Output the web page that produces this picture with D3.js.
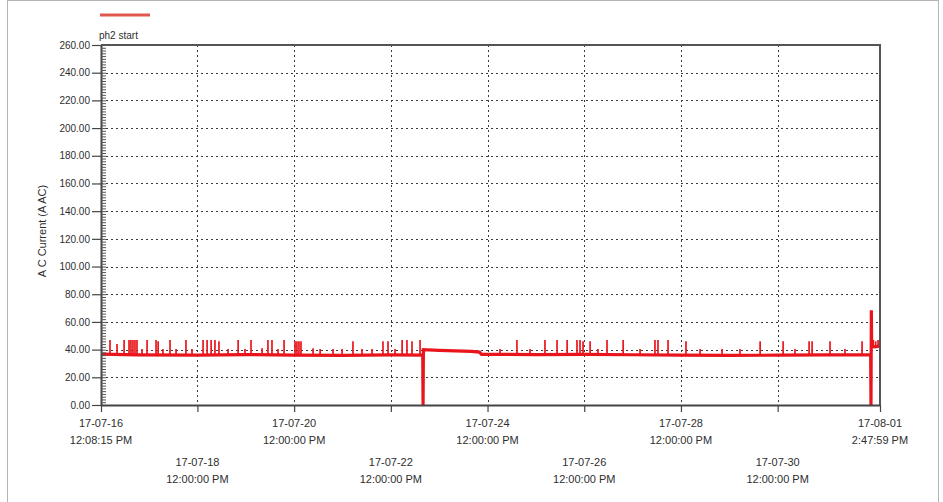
<!DOCTYPE html>
<html>
<head>
<meta charset="utf-8">
<script src="https://cdn.jsdelivr.net/npm/d3@7"></script>
<style>
  body { margin: 0; background: #fff; }
  svg text { font-family: "Liberation Sans", Arial, sans-serif; fill: #2e2e2e; }
</style>
</head>
<body>
<svg id="chart" width="943" height="502"></svg>
<script>
// ---- data -------------------------------------------------------------
const seriesName = "ph2 start";
const yTitle = "A C Current (A AC)";
const timeStart = "2017-07-16 12:08:15";
const timeEnd = "2017-08-01 14:47:59";

const tickTimes = [
  "2017-07-16 12:08:15", "2017-07-18 12:00:00", "2017-07-20 12:00:00",
  "2017-07-22 12:00:00", "2017-07-24 12:00:00", "2017-07-26 12:00:00",
  "2017-07-28 12:00:00", "2017-07-30 12:00:00", "2017-08-01 14:47:59"
];
const yTicks = [0, 20, 40, 60, 80, 100, 120, 140, 160, 180, 200, 220, 240, 260];

// steady current readings (A AC)
const baseTimes = [
  "2017-07-16 12:08", "2017-07-17 06:00", "2017-07-18 12:00", "2017-07-19 12:00",
  "2017-07-20 12:00", "2017-07-21 12:00", "2017-07-22 12:00", "2017-07-23 03:50",
  "2017-07-23 04:00", "2017-07-23 04:10", "2017-07-23 12:00", "2017-07-23 20:00",
  "2017-07-24 04:00", "2017-07-24 08:00", "2017-07-24 09:00", "2017-07-25 12:00",
  "2017-07-26 12:00", "2017-07-27 12:00", "2017-07-28 12:00", "2017-07-29 12:00",
  "2017-07-30 12:00", "2017-07-31 12:00", "2017-08-01 10:10", "2017-08-01 10:20",
  "2017-08-01 10:30", "2017-08-01 10:40", "2017-08-01 12:00", "2017-08-01 14:47"
];
const baseValues = [
  36.8, 36.2, 36.0, 36.4,
  36.0, 35.8, 36.2, 36.0,
  0.0, 39.9, 39.5, 39.1,
  38.7, 38.2, 36.6, 36.4,
  36.6, 36.3, 36.0, 35.8,
  36.0, 36.2, 36.4, 0.0,
  68.5, 42.5, 42.0, 42.5
];

// short start-up peaks (A AC)
const spikeTimes = [
  "2017-07-16 16:36", "2017-07-16 20:06", "2017-07-16 23:36", "2017-07-17 02:03",
  "2017-07-17 03:00", "2017-07-17 04:00", "2017-07-17 05:00", "2017-07-17 06:00",
  "2017-07-17 08:30", "2017-07-17 11:00", "2017-07-17 15:27", "2017-07-17 16:30",
  "2017-07-17 18:54", "2017-07-17 22:24", "2017-07-18 01:24", "2017-07-18 06:18",
  "2017-07-18 09:18", "2017-07-18 14:48", "2017-07-18 16:48", "2017-07-18 18:48",
  "2017-07-18 20:42", "2017-07-18 22:42", "2017-07-19 03:12", "2017-07-19 08:12",
  "2017-07-19 11:36", "2017-07-19 14:36", "2017-07-19 20:06", "2017-07-19 23:00",
  "2017-07-20 01:00", "2017-07-20 04:00", "2017-07-20 07:00", "2017-07-20 12:27",
  "2017-07-20 13:24", "2017-07-20 14:24", "2017-07-20 15:24", "2017-07-20 21:24",
  "2017-07-21 00:54", "2017-07-21 07:18", "2017-07-21 11:48", "2017-07-21 17:12",
  "2017-07-21 21:42", "2017-07-22 02:42", "2017-07-22 08:06", "2017-07-22 10:36",
  "2017-07-22 14:06", "2017-07-22 17:36", "2017-07-22 20:00", "2017-07-22 22:30",
  "2017-07-23 02:30", "2017-07-24 18:12", "2017-07-25 02:36", "2017-07-25 09:06",
  "2017-07-25 16:30", "2017-07-25 22:30", "2017-07-26 03:30", "2017-07-26 08:24",
  "2017-07-26 09:54", "2017-07-26 11:24", "2017-07-26 14:54", "2017-07-26 18:48",
  "2017-07-26 23:18", "2017-07-27 07:18", "2017-07-27 15:42", "2017-07-27 23:06",
  "2017-07-28 00:36", "2017-07-28 05:36", "2017-07-28 14:30", "2017-07-28 21:30",
  "2017-07-29 08:24", "2017-07-29 17:18", "2017-07-30 03:18", "2017-07-30 14:42",
  "2017-07-30 20:36", "2017-07-31 03:36", "2017-07-31 05:06", "2017-07-31 14:00",
  "2017-07-31 21:24", "2017-08-01 05:54", "2017-08-01 11:30", "2017-08-01 12:40",
  "2017-08-01 13:50"
];
const spikeValues = [
  47, 44, 47, 47,
  47, 47, 47, 47,
  40.5, 47, 47, 46,
  40.5, 47, 40.5, 47,
  40.5, 47, 47, 47,
  47, 46, 40.5, 47,
  40.5, 47, 41, 47,
  47, 40.5, 47, 46,
  46, 46, 46, 41,
  40.5, 40.5, 40.5, 46,
  40.5, 40.5, 46, 46,
  40.5, 47, 47, 46,
  47, 40.5, 47, 40.5,
  47, 47, 47, 47,
  47, 46, 46, 40.5,
  47, 47, 40.5, 47,
  47, 47, 46, 40.5,
  40.5, 40.5, 46, 46,
  40.5, 46, 46, 46,
  40.5, 46, 47, 46,
  47
];

// ---- layout ------------------------------------------------------------
const svg = d3.select("#chart");
const plot = { left: 101, right: 880, top: 45, bottom: 405 };
const parseFull = d3.timeParse("%Y-%m-%d %H:%M:%S");
const parseMin = d3.timeParse("%Y-%m-%d %H:%M");

const x = d3.scaleTime()
  .domain([parseFull(timeStart), parseFull(timeEnd)])
  .range([plot.left, plot.right]);
const y = d3.scaleLinear().domain([0, 260]).range([plot.bottom, plot.top]);

// outer frame
svg.append("rect")
  .attr("x", 7.5).attr("y", 0.5).attr("width", 931).attr("height", 520)
  .attr("fill", "none").attr("stroke", "#b4b4b4").attr("stroke-width", 1);

// legend
svg.append("line")
  .attr("x1", 100).attr("x2", 150).attr("y1", 15).attr("y2", 15)
  .attr("stroke", "#e0574d").attr("stroke-width", 3);
svg.append("text")
  .attr("x", 99).attr("y", 39)
  .attr("font-size", 10)
  .text(seriesName);

// grid
const ticksParsed = tickTimes.map(parseFull);
const grid = svg.append("g").attr("stroke", "#3a3a3a").attr("stroke-width", 1)
  .attr("stroke-dasharray", "2,3");
grid.selectAll("line.h")
  .data(yTicks.filter(v => v > 0 && v < 260))
  .join("line").attr("class", "h")
  .attr("x1", plot.left).attr("x2", plot.right)
  .attr("y1", d => Math.round(y(d)) + 0.5).attr("y2", d => Math.round(y(d)) + 0.5);
grid.selectAll("line.v")
  .data(ticksParsed.slice(1, -1))
  .join("line").attr("class", "v")
  .attr("y1", plot.top).attr("y2", plot.bottom)
  .attr("x1", d => Math.round(x(d)) + 0.5).attr("x2", d => Math.round(x(d)) + 0.5);

// series
const base = baseTimes.map((t, i) => ({ t: parseMin(t), v: baseValues[i] }));
const spikes = spikeTimes.map((t, i) => ({ t: parseMin(t), v: spikeValues[i] }));
const bis = d3.bisector(d => d.t).right;
const baseAt = t => base[Math.max(0, bis(base, t) - 1)].v;

const red = "#e8161c";
svg.append("g").selectAll("line")
  .data(spikes)
  .join("line")
  .attr("x1", d => x(d.t)).attr("x2", d => x(d.t))
  .attr("y1", d => y(baseAt(d.t))).attr("y2", d => y(d.v))
  .attr("stroke", red).attr("stroke-width", 1.7);

svg.append("path")
  .datum(base)
  .attr("fill", "none")
  .attr("stroke", red)
  .attr("stroke-width", 3.2)
  .attr("stroke-linejoin", "miter")
  .attr("d", d3.line().x(d => x(d.t)).y(d => y(d.v)));

// plot border (top and right)
svg.append("path")
  .attr("d", `M${plot.left},${plot.top}H${plot.right}V${plot.bottom}`)
  .attr("fill", "none").attr("stroke", "#555").attr("stroke-width", 2);

// y axis: major ticks outside, minor ticks inside
const yAxis = svg.append("g")
  .attr("transform", `translate(${plot.left},0)`)
  .call(d3.axisLeft(y).tickValues(yTicks).tickFormat(d3.format(".2f"))
    .tickSize(9).tickSizeOuter(0).tickPadding(2));
yAxis.select(".domain").attr("stroke", "#444").attr("stroke-width", 2);
yAxis.selectAll(".tick line").attr("stroke", "#444").attr("stroke-width", 1.2);
yAxis.selectAll(".tick text").attr("font-size", 10).attr("fill", "#2e2e2e")
  .attr("font-family", "Liberation Sans, Arial, sans-serif");

const minor = svg.append("g")
  .attr("transform", `translate(${plot.left},0)`)
  .call(d3.axisRight(y).tickValues(d3.range(0, 261, 2)).tickFormat("")
    .tickSize(5).tickSizeOuter(0));
minor.select(".domain").remove();
minor.selectAll(".tick line").attr("stroke", "#555").attr("stroke-width", 1);

// y title
svg.append("text")
  .attr("transform", "translate(46,231) rotate(-90)")
  .attr("text-anchor", "middle")
  .attr("font-size", 11)
  .text(yTitle);

// x axis
const xAxis = svg.append("g")
  .attr("transform", `translate(0,${plot.bottom})`)
  .call(d3.axisBottom(x).tickValues(ticksParsed).tickFormat("")
    .tickSize(7).tickSizeOuter(0));
xAxis.select(".domain").attr("stroke", "#444").attr("stroke-width", 2);
xAxis.selectAll(".tick line").attr("stroke", "#444").attr("stroke-width", 1.2);

const fmtDate = d3.timeFormat("%y-%m-%d");
const fmtTime = d3.timeFormat("%-I:%M:%S %p");
const labels = svg.append("g").attr("font-size", 11).attr("text-anchor", "middle");
ticksParsed.forEach((d, i) => {
  const row = i % 2 === 0 ? 0 : 39;
  const t = labels.append("text").attr("x", x(d));
  t.append("tspan").attr("x", x(d)).attr("y", 427 + row).text(fmtDate(d));
  t.append("tspan").attr("x", x(d)).attr("y", 444 + row).text(fmtTime(d));
});
</script>
</body>
</html>
